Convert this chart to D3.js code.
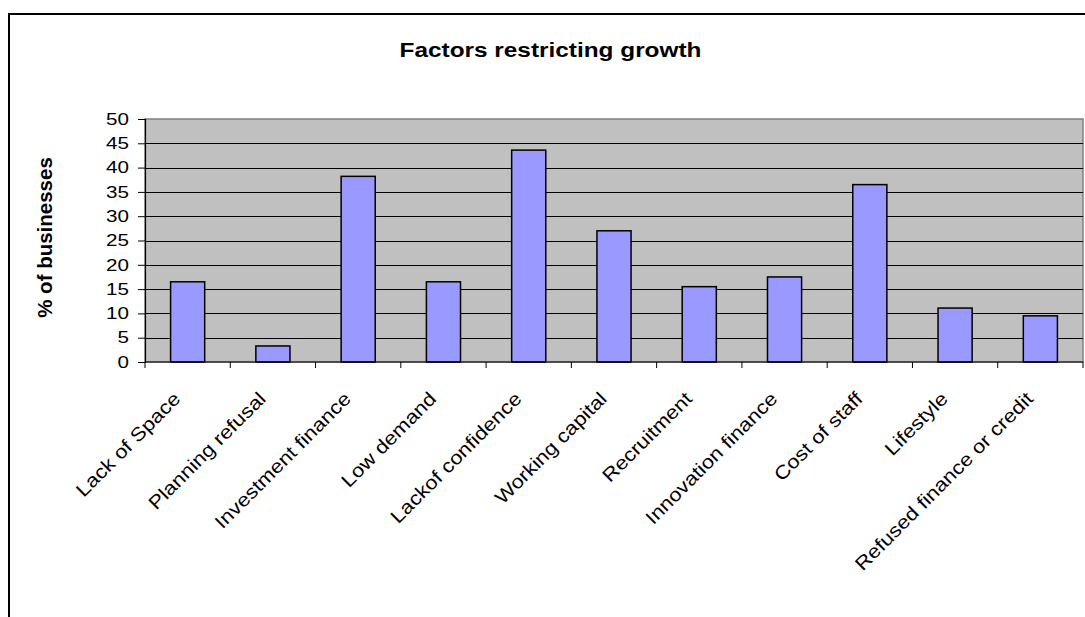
<!DOCTYPE html>
<html>
<head>
<meta charset="utf-8">
<script src="https://cdn.jsdelivr.net/npm/d3@7"></script>
<style>
  html, body { margin: 0; padding: 0; background: #fff; }
  svg { display: block; }
  text { font-family: "Liberation Sans", Arial, sans-serif; fill: #000; }
</style>
</head>
<body>
<svg id="chart" width="1085" height="617"></svg>
<script>
// Survey results: share of businesses citing each factor
const categories = [
  "Lack of Space", "Planning refusal", "Investment finance", "Low demand",
  "Lackof confidence", "Working capital", "Recruitment", "Innovation finance",
  "Cost of staff", "Lifestyle", "Refused finance or credit"
];
const values = [16.5, 3.3, 38.2, 16.5, 43.6, 27.0, 15.5, 17.5, 36.5, 11.1, 9.5];
const yTicks = [0, 5, 10, 15, 20, 25, 30, 35, 40, 45, 50];
const titleText = "Factors restricting growth";
const yTitleText = "% of businesses";

const svg = d3.select("#chart");

// outer chart frame
svg.append("rect")
  .attr("x", 9).attr("y", 14)
  .attr("width", 1100).attr("height", 640)
  .attr("fill", "#fff")
  .attr("stroke", "#000")
  .attr("stroke-width", 2);

const plot = { left: 145, right: 1083, top: 119, bottom: 362 };

const x = d3.scaleBand()
  .domain(categories)
  .range([plot.left, plot.right])
  .paddingInner(0.6)
  .paddingOuter(0.3);

const y = d3.scaleLinear()
  .domain([0, 50])
  .range([plot.bottom, plot.top]);

// plot background
svg.append("rect")
  .attr("x", plot.left).attr("y", plot.top)
  .attr("width", plot.right - plot.left)
  .attr("height", plot.bottom - plot.top)
  .attr("fill", "#c0c0c0")
  .attr("stroke", "#808080")
  .attr("stroke-width", 1.5);

// horizontal gridlines
svg.append("g")
  .selectAll("line")
  .data(yTicks.filter(d => d > 0 && d < 50))
  .join("line")
  .attr("x1", plot.left).attr("x2", plot.right)
  .attr("y1", d => Math.round(y(d)) + 0.5)
  .attr("y2", d => Math.round(y(d)) + 0.5)
  .attr("stroke", "#000")
  .attr("stroke-width", 1);

// bars
svg.append("g")
  .selectAll("rect")
  .data(values)
  .join("rect")
  .attr("x", (d, i) => x(categories[i]))
  .attr("y", d => y(d))
  .attr("width", x.bandwidth())
  .attr("height", d => y(0) - y(d))
  .attr("fill", "#9999ff")
  .attr("stroke", "#000")
  .attr("stroke-width", 1.5);

// y axis
const yAxis = d3.axisLeft(y)
  .tickValues(yTicks)
  .tickSize(7)
  .tickPadding(9)
  .tickFormat(d3.format("d"));
const gy = svg.append("g")
  .attr("transform", `translate(${plot.left},0)`)
  .call(yAxis);
gy.select(".domain").attr("stroke", "#000").attr("stroke-width", 1.2);
gy.selectAll(".tick line").attr("stroke", "#000");
gy.selectAll(".tick text")
  .attr("font-size", 16.5)
  .attr("font-family", "Liberation Sans, Arial, sans-serif")
  .each(function() {
    const t = d3.select(this);
    const tx = +t.attr("x");
    t.attr("x", null)
     .attr("transform", `translate(${tx},0) scale(1.25,1)`);
  });

// x axis line and tick marks at category boundaries
const step = x.step();
const x0 = x.range()[0];
const edges = d3.range(categories.length + 1).map(i => x0 + i * step);
svg.append("line")
  .attr("x1", plot.left).attr("x2", plot.right)
  .attr("y1", plot.bottom).attr("y2", plot.bottom)
  .attr("stroke", "#000").attr("stroke-width", 1.2);
svg.append("g")
  .selectAll("line")
  .data(edges)
  .join("line")
  .attr("x1", d => d).attr("x2", d => d)
  .attr("y1", plot.bottom).attr("y2", plot.bottom + 6)
  .attr("stroke", "#000");

// category labels, slanted
svg.append("g")
  .selectAll("text")
  .data(categories)
  .join("text")
  .attr("transform", d => {
    const cx = x(d) + x.bandwidth() / 2;
    return `translate(${cx - 6},${plot.bottom + 38}) rotate(-45) scale(1.15,1)`;
  })
  .attr("text-anchor", "end")
  .attr("font-size", 19)
  .text(d => d);

// chart title
svg.append("text")
  .attr("transform", "translate(550.5,57) scale(1.25,1)")
  .attr("text-anchor", "middle")
  .attr("font-size", 19.5)
  .attr("font-weight", "bold")
  .text(titleText);

// y axis title
svg.append("text")
  .attr("transform", `translate(52,${(plot.top + plot.bottom) / 2 - 3}) rotate(-90)`)
  .attr("text-anchor", "middle")
  .attr("font-size", 20.5)
  .attr("font-weight", "bold")
  .text(yTitleText);
</script>
</body>
</html>
